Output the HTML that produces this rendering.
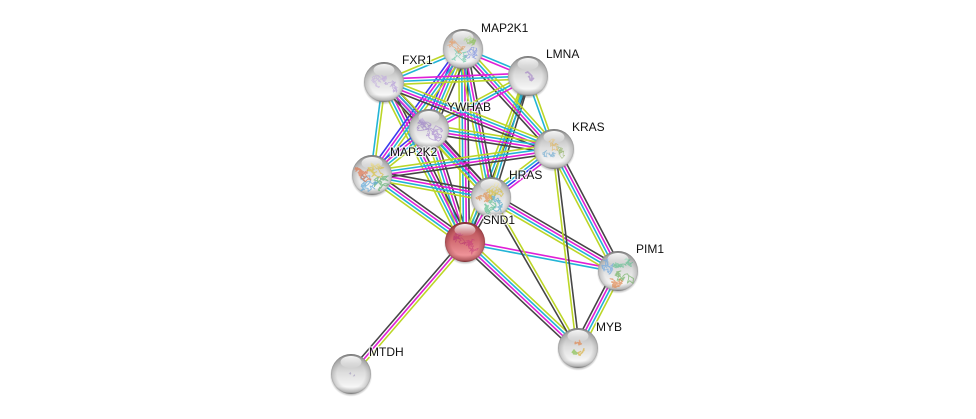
<!DOCTYPE html>
<html>
<head>
<meta charset="utf-8">
<style>
html,body{margin:0;padding:0;background:#fff;width:976px;height:419px;overflow:hidden}
svg{display:block}
text{font-family:"Liberation Sans",sans-serif;font-size:12px;fill:#111;stroke:#fff;stroke-width:2.5px;stroke-opacity:.75;paint-order:stroke;stroke-linejoin:round}
</style>
</head>
<body>
<svg id="s" xmlns="http://www.w3.org/2000/svg" width="976" height="419" viewBox="0 0 976 419">
<defs>
<linearGradient id="g" x1="0" y1="0" x2="0" y2="1">
<stop offset="0" stop-color="#8c8c8c"/><stop offset=".14" stop-color="#b8b8b8"/><stop offset=".45" stop-color="#dcdcdc"/><stop offset=".82" stop-color="#f6f6f6"/><stop offset=".95" stop-color="#d0d0d0"/><stop offset="1" stop-color="#8a8a8a"/>
</linearGradient>
<linearGradient id="r" x1="0" y1="0" x2="0" y2="1">
<stop offset="0" stop-color="#8f3a3e"/><stop offset=".14" stop-color="#b9545a"/><stop offset=".45" stop-color="#d06a70"/><stop offset=".82" stop-color="#ee9398"/><stop offset=".95" stop-color="#d0757a"/><stop offset="1" stop-color="#8e3a3e"/>
</linearGradient>
<radialGradient id="e" cx="50%" cy="50%" r="50%">
<stop offset=".7" stop-color="#666" stop-opacity="0"/><stop offset=".93" stop-color="#666" stop-opacity=".25"/><stop offset="1" stop-color="#555" stop-opacity=".5"/>
</radialGradient>
<radialGradient id="er" cx="50%" cy="50%" r="50%">
<stop offset=".7" stop-color="#702025" stop-opacity="0"/><stop offset=".93" stop-color="#702025" stop-opacity=".3"/><stop offset="1" stop-color="#601a1e" stop-opacity=".55"/>
</radialGradient>
<linearGradient id="h" x1="0" y1="0" x2="0" y2="1">
<stop offset="0" stop-color="#fff" stop-opacity=".95"/><stop offset="1" stop-color="#fff" stop-opacity=".05"/>
</linearGradient>
<radialGradient id="sh" cx="50%" cy="50%" r="50%">
<stop offset=".85" stop-color="#555" stop-opacity=".5"/><stop offset="1" stop-color="#777" stop-opacity="0"/>
</radialGradient>
</defs>
<g id="edges" fill="none" stroke-width="1.6"></g>
<g id="nodes"></g>
<g>
<text x="481" y="32">MAP2K1</text>
<text x="546" y="58">LMNA</text>
<text x="402" y="64">FXR1</text>
<text x="447" y="111">YWHAB</text>
<text x="572" y="131">KRAS</text>
<text x="390" y="156">MAP2K2</text>
<text x="509" y="179">HRAS</text>
<text x="483" y="224">SND1</text>
<text x="636" y="253">PIM1</text>
<text x="596" y="331">MYB</text>
<text x="369" y="356">MTDH</text>
</g>
</svg>
<script>
var N={A:[463,49],L:[528,76],F:[384,82],Y:[429,129],K:[554,149],M:[372,175],H:[491,197],S:[465,242],P:[618,271],B:[578,348],T:[351,374]};
var C={y:'#bcd627',c:'#22b4d6',m:'#e01fd6',k:'#464646',b:'#3a3aee'};
var E=[
['S','T','kmy'],['S','B','kmcy'],['S','P','cm'],['S','H','kmcy'],['S','M','kmcy'],['S','Y','kmcy'],['S','F','kmcy'],['S','A','kmcy'],['S','L','kcy'],
['H','P','ycmk'],['H','B','ky'],['K','B','yk'],['K','P','ycmk'],['P','B','kmcy'],
['H','K','mbcy'],['H','A','kmcy'],['H','L','kcy'],['H','F','kmcy'],['H','Y','kmcy'],['H','M','kmcy'],
['A','F','yc'],['A','L','mc'],['A','Y','bmcyk'],['A','M','bmcy'],['A','K','kmcy'],
['L','F','mcy'],['L','Y','ycm'],['L','K','cy'],
['F','M','cy'],['F','Y','kmcy'],['F','K','kmcy'],
['Y','M','bmcy'],['Y','K','kmcy'],['M','K','kmcy']
];
var NS='http://www.w3.org/2000/svg',eg=document.getElementById('edges'),ng=document.getElementById('nodes');
function el(t,a,p){var e=document.createElementNS(NS,t);for(var k in a)e.setAttribute(k,a[k]);p.appendChild(e);return e}
E.forEach(function(e){
 var a=N[e[0]],b=N[e[1]],dx=b[0]-a[0],dy=b[1]-a[1],l=Math.hypot(dx,dy),nx=-dy/l,ny=dx/l,n=e[2].length,sp=2.9;
 for(var i=0;i<n;i++){var o=-(i-(n-1)/2)*sp;
  el('line',{x1:a[0]+nx*o,y1:a[1]+ny*o,x2:b[0]+nx*o,y2:b[1]+ny*o,stroke:C[e[2][i]]},eg);}
});
var S={A:['#7a8fe0','#6cc7a8','#e89a60','#88c050',200,.7,15],L:['#a88ac8',0,0,0,14,1.6,6],F:['#b49ad8','#c0a8e0',0,0,110,.6,14],Y:['#a98ad0','#9c80c8',0,0,140,.8,14],K:['#8fb060','#6aa8d0','#e0b050',0,90,.6,11],M:['#60b070','#60a8d8','#e07850','#d8c040',220,1,17],H:['#50a8c8','#60c090','#e09050','#d8c040',220,.9,16],S:['#c8407a','#b83870',0,0,120,.6,13],P:['#70b060','#e08850','#70a8e0','#60c090',200,.9,17],B:['#d8b040','#88c050','#e08850',0,30,1.4,8],T:['#a8a0c0','#a8a0c0',0,0,10,.7,5]};
var seed=7;function rnd(){seed=(seed*16807)%2147483647;return seed/2147483647}
Object.keys(N).forEach(function(k){
 var x=N[k][0],y=N[k][1],red=k=='S';
 el('ellipse',{cx:x,cy:y+1.5,rx:21.2,ry:21.2,fill:'url(#sh)'},ng);
 el('circle',{cx:x,cy:y,r:20,fill:'url(#'+(red?'r':'g')+')'},ng);
 el('circle',{cx:x,cy:y,r:20,fill:'url(#'+(red?'er':'e')+')'},ng);
 var s=S[k],cols=s.slice(0,4).filter(Boolean),n=s[4],sw=s[5],ra=s[6];
 var w=el('g',{fill:'none','stroke-width':sw,'stroke-linejoin':'round','stroke-opacity':.7},ng);
 for(var c=0;c<cols.length;c++){
  var ang=c*6.28/cols.length+.6,off=cols.length>1?ra*.5:0,cx=x+Math.cos(ang)*off,cy=y+1+Math.sin(ang)*off,lim=cols.length>1?ra*.62:ra;
  var d='',px=cx,py=cy,m=Math.ceil(n/cols.length);
  for(var i=0;i<m;i++){d+=(i?'L':'M')+px.toFixed(1)+' '+py.toFixed(1);px+=(rnd()-.5)*7;py+=(rnd()-.5)*7;
   var q=Math.hypot(px-cx,py-cy);if(q>lim){px=cx+(px-cx)*.5;py=cy+(py-cy)*.5}}
  el('path',{d:d,stroke:cols[c]},w);
 }
 el('ellipse',{cx:x,cy:y-12,rx:10.5,ry:6,fill:'url(#h)'},ng);
});
</script>
</body>
</html>
